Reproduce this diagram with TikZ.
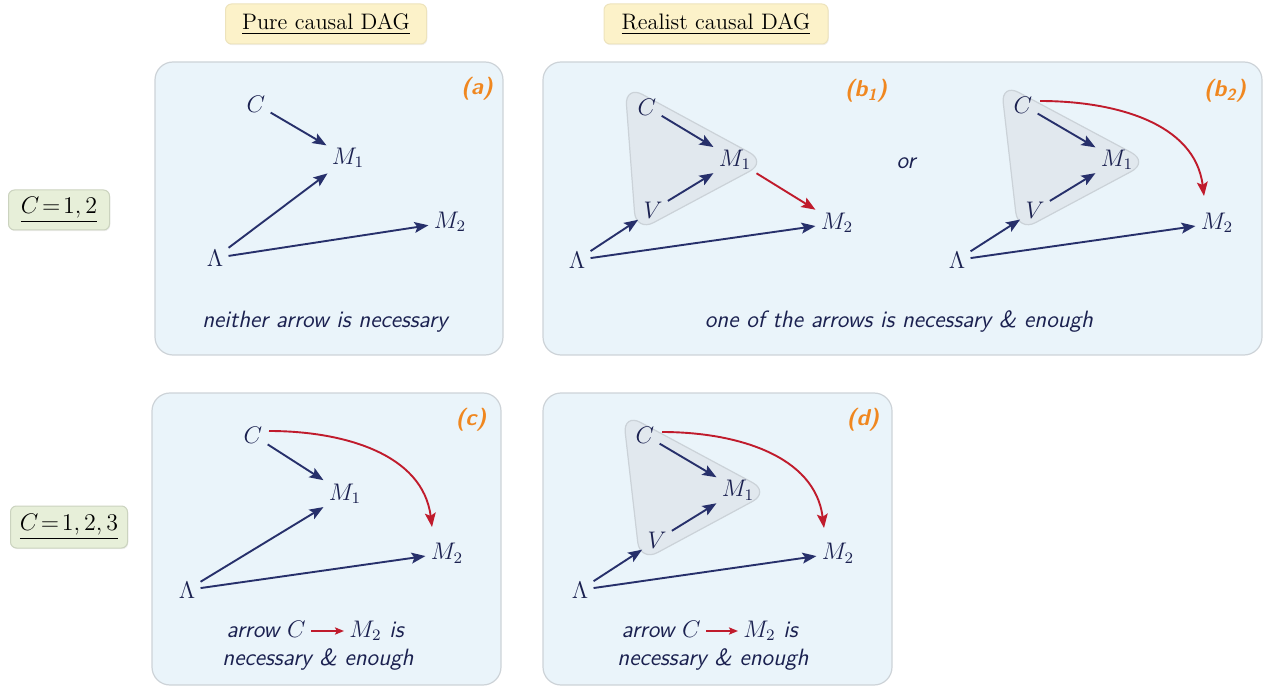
\documentclass[tikz,border=0pt]{standalone}
\usetikzlibrary{arrows.meta,calc,shadows}
\definecolor{panelfill}{HTML}{EAF4FA}
\definecolor{panelborder}{HTML}{CDD3D8}
\definecolor{hullfill}{HTML}{E1E8EE}
\definecolor{hullborder}{HTML}{CBD2D8}
\definecolor{navy}{HTML}{27306B}
\definecolor{inktext}{HTML}{1B2150}
\definecolor{redc}{HTML}{C01B2C}
\definecolor{orangec}{HTML}{F0871F}
\definecolor{headfill}{HTML}{FCF2C9}
\definecolor{headborder}{HTML}{EDE3BC}
\definecolor{cfill}{HTML}{E7EFD9}
\definecolor{cborder}{HTML}{CBD3BF}
\tikzset{
  panel/.style={draw=panelborder, fill=panelfill, rounded corners=9pt, line width=0.6pt},
  hull/.style={draw=hullborder, fill=hullfill, rounded corners=10pt, line width=0.6pt},
  var/.style={inner sep=2.5pt, text=inktext, font=\fontsize{12}{14}\selectfont},
  arr/.style={draw=navy, line width=0.95pt, -{Stealth[length=7pt,width=5.4pt,inset=1.4pt]}},
  rarr/.style={draw=redc, line width=0.95pt, -{Stealth[length=7pt,width=5.4pt,inset=1.4pt]}},
  smallrarr/.style={draw=redc, line width=0.8pt, -{Stealth[length=4.5pt,width=3.6pt,inset=0.9pt]}},
  tag/.style={text=orangec, font=\sffamily\itshape\bfseries\fontsize{11.5}{14}\selectfont},
  captext/.style={text=inktext, font=\sffamily\itshape\fontsize{11.8}{14}\selectfont, inner sep=2.5pt, text height=8.5pt, text depth=2.5pt},
  headbox/.style={fill=headfill, draw=headborder, rounded corners=3pt, line width=0.5pt,
    minimum height=20pt, font=\fontsize{11.2}{14}\selectfont, text=black,
    drop shadow={opacity=0.12, shadow xshift=0.4pt, shadow yshift=-0.6pt}},
  cbox/.style={fill=cfill, draw=cborder, rounded corners=3pt, line width=0.5pt,
    minimum height=20pt, font=\fontsize{12}{14}\selectfont, text=black,
    drop shadow={opacity=0.12, shadow xshift=0.4pt, shadow yshift=-0.6pt}},
}
\begin{document}
\begin{tikzpicture}[x=0.5pt,y=0.5pt]
\useasboundingbox (0,0) rectangle (1266,-690);

% headers
\node[headbox, minimum width=100.5pt] (hpure) at (326,-24) {\underline{Pure causal DAG}};
\node[headbox, minimum width=112pt] (hreal) at (716,-24) {\underline{Realist causal DAG}};
\node[cbox, minimum width=50.5pt] (c12) at (59,-210) {$\underline{C\!=\!1,2}$};
\node[cbox, minimum width=58.5pt, minimum height=21pt] (c123) at (69,-527) {$\underline{C\!=\!1,2,3}$};

% panels
\draw[panel] (155,-62) rectangle (503,-355);
\draw[panel] (543,-62) rectangle (1262,-355);
\draw[panel] (152,-393) rectangle (501,-685);
\draw[panel] (543,-393) rectangle (892,-685);

% hulls
\draw[hull] (625,-85) -- (767,-162) -- (636,-232) -- cycle;
\draw[hull] (1001,-83) -- (1149,-162) -- (1018,-232) -- cycle;
\draw[hull] (623,-413) -- (770,-492) -- (640,-562) -- cycle;

% ---------- panel (a)
\node[tag] (ta) at (477,-89) {(a)};
\node[var] (aC) at (256,-104) {$C$};
\node[var] (aM1) at (348,-158) {$M_1$};
\node[var] (aM2) at (450,-222) {$M_2$};
\node[var] (aL) at (215,-258) {$\Lambda$};
\draw[arr] (aC) -- (aM1);
\draw[arr] (aL) -- (aM1);
\draw[arr] (aL) -- (aM2);
\node[captext] (capa) at (325,-322) {neither arrow is necessary};

% ---------- panel (b1)
\node[tag] (tb1) at (866,-91) {(b\textsubscript{1})};
\node[var] (bC) at (647,-107) {$C$};
\node[var] (bM1) at (735,-160) {$M_1$};
\node[var] (bV) at (653,-210) {$V$};
\node[var] (bM2) at (837,-223) {$M_2$};
\node[var] (bL) at (577,-260) {$\Lambda$};
\draw[arr] (bC) -- (bM1);
\draw[arr] (bV) -- (bM1);
\draw[arr] (bL) -- (bV);
\draw[arr] (bL) -- (bM2);
\draw[rarr] (bM1) -- (bM2);
\node[captext] (ortext) at (906,-163) {or};

% ---------- panel (b2)
\node[tag] (tb2) at (1225,-91) {(b\textsubscript{2})};
\node[var] (eC) at (1023,-105) {$C$};
\node[var] (eM1) at (1117,-160) {$M_1$};
\node[var] (eV) at (1035,-210) {$V$};
\node[var] (eM2) at (1217,-223) {$M_2$};
\node[var] (eL) at (957,-260) {$\Lambda$};
\draw[arr] (eC) -- (eM1);
\draw[arr] (eV) -- (eM1);
\draw[arr] (eL) -- (eV);
\draw[arr] (eL) -- (eM2);
\draw[rarr] ($(eC)+(17,4)$) to[out=0,in=97] ($(eM2)+(-13,27)$);
\node[captext] (capb) at (899,-322) {one of the arrows is necessary \& enough};

% ---------- panel (c)
\node[tag] (tc) at (471,-420) {(c)};
\node[var] (cC) at (253,-435) {$C$};
\node[var] (cM1) at (345,-494) {$M_1$};
\node[var] (cM2) at (447,-553) {$M_2$};
\node[var] (cL) at (187,-590) {$\Lambda$};
\draw[arr] (cC) -- (cM1);
\draw[arr] (cL) -- (cM1);
\draw[arr] (cL) -- (cM2);
\draw[rarr] ($(cC)+(16,4)$) to[out=0,in=97] ($(cM2)+(-15,26)$);
\node[captext, anchor=east] (cca) at (311,-631) {arrow $C$};
\node[captext, anchor=west] (ccb) at (344,-631) {$M_2$ is};
\draw[smallrarr] (cca) -- (ccb);
\node[captext] (ccc) at (318,-659) {necessary \& enough};

% ---------- panel (d)
\node[tag] (td) at (863,-420) {(d)};
\node[var] (dC) at (645,-435) {$C$};
\node[var] (dM1) at (738,-490) {$M_1$};
\node[var] (dV) at (657,-540) {$V$};
\node[var] (dM2) at (838,-553) {$M_2$};
\node[var] (dL) at (580,-590) {$\Lambda$};
\draw[arr] (dC) -- (dM1);
\draw[arr] (dV) -- (dM1);
\draw[arr] (dL) -- (dV);
\draw[arr] (dL) -- (dM2);
\draw[rarr] ($(dC)+(17,3)$) to[out=0,in=97] ($(dM2)+(-14,25)$);
\node[captext, anchor=east] (dca) at (706,-631) {arrow $C$};
\node[captext, anchor=west] (dcb) at (738,-631) {$M_2$ is};
\draw[smallrarr] (dca) -- (dcb);
\node[captext] (dcc) at (713,-659) {necessary \& enough};
\end{tikzpicture}
\end{document}
